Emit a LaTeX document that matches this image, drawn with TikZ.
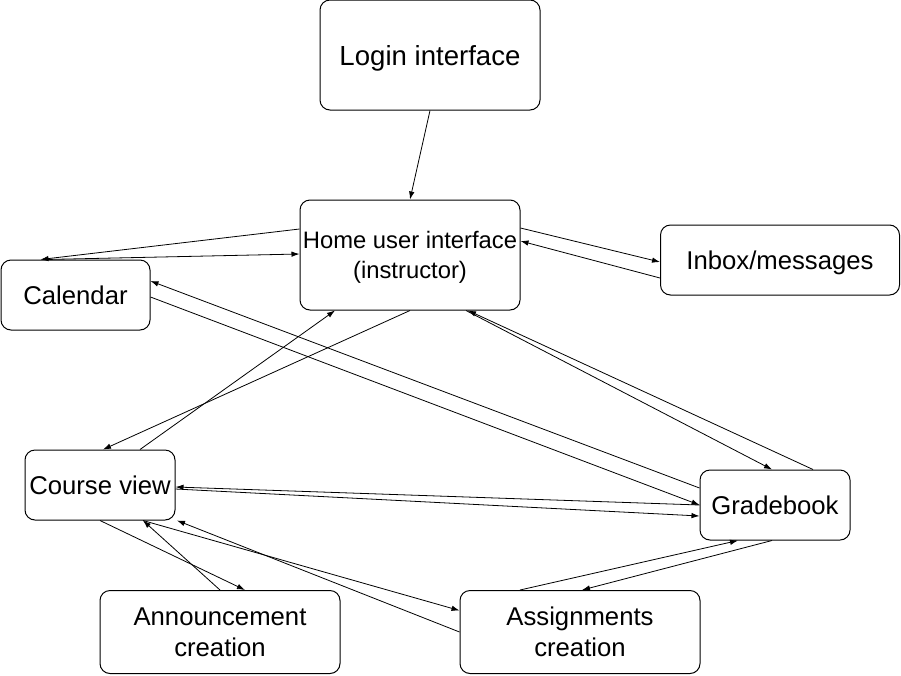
\documentclass[tikz,border=0pt]{standalone}
\usepackage{fontspec}
\setmainfont{Liberation Sans}
\usetikzlibrary{arrows.meta,calc}
\begin{document}
\begin{tikzpicture}[x=1pt,y=-1pt,
  box/.style={draw=black,line width=1pt,rounded corners=10pt,align=center,inner sep=0pt,text depth=0pt,
    font=\fontsize{25.7}{31}\selectfont},
  conn/.style={draw=black,line width=0.8pt,-{Latex[length=8pt,width=5.5pt]}}]
\useasboundingbox (0,0) rectangle (901,675);
\node[box,minimum width=220pt,minimum height=110pt,font=\fontsize{27.6}{32}\selectfont] (login) at (430,55) {Login interface};
\node[box,minimum width=220pt,minimum height=110pt,font=\fontsize{23.8}{30}\selectfont] (home) at (410,255) {Home user interface\\(instructor)};
\node[box,minimum width=239pt,minimum height=70pt] (inbox) at (780,260) {Inbox/messages};
\node[box,minimum width=149pt,minimum height=70pt] (cal) at (75.5,295) {Calendar};
\node[box,minimum width=150pt,minimum height=70pt] (course) at (100,485) {Course view};
\node[box,minimum width=150pt,minimum height=70pt] (grade) at (775,505) {Gradebook};
\node[box,minimum width=240pt,minimum height=83pt] (ann) at (220,632) {Announcement\\creation};
\node[box,minimum width=240pt,minimum height=83pt] (asg) at (580,632) {Assignments\\creation};
% connectors
\draw[conn] (login.south) -- (home.north);
\draw[conn] ([yshift=26pt]home.west) -- ([xshift=-35pt]cal.north);
\draw[conn] ([xshift=-30pt]cal.north) -- ([yshift=1pt]home.west);
\draw[conn] ([yshift=17pt]grade.west) -- ([yshift=14pt]cal.east);
\draw[conn] ([yshift=-2pt]cal.east) -- (grade.west);
\draw[conn] (grade.west) -- ([yshift=-2pt]course.east);
\draw[conn] ([yshift=-4pt]course.east) -- ([yshift=-11pt]grade.west);
\draw[conn] ([xshift=56pt]home.south) -- ([xshift=-3pt]grade.north);
\draw[conn] ([xshift=38pt]grade.north) -- ([xshift=58pt]home.south);
\draw[conn] (home.south) -- ([xshift=3pt]course.north);
\draw[conn] ([xshift=40pt]course.north) -- ([xshift=-75pt]home.south);
\draw[conn] (course.south) -- ([xshift=25pt]ann.north);
\draw[conn] (ann.north) -- ([xshift=43pt]course.south);
\draw[conn] ([xshift=43pt]course.south) -- ([yshift=21.5pt]asg.west);
\draw[conn] (asg.west) -- ([xshift=77pt]course.south);
\draw[conn] ([xshift=-60pt]asg.north) -- ([xshift=-37pt]grade.south);
\draw[conn] ([xshift=-3pt]grade.south) -- ([xshift=2pt]asg.north);
\draw[conn] ([yshift=27pt]home.east) -- ([yshift=-2pt]inbox.west);
\draw[conn] ([yshift=-18pt]inbox.west) -- ([yshift=14pt]home.east);
\end{tikzpicture}
\end{document}
